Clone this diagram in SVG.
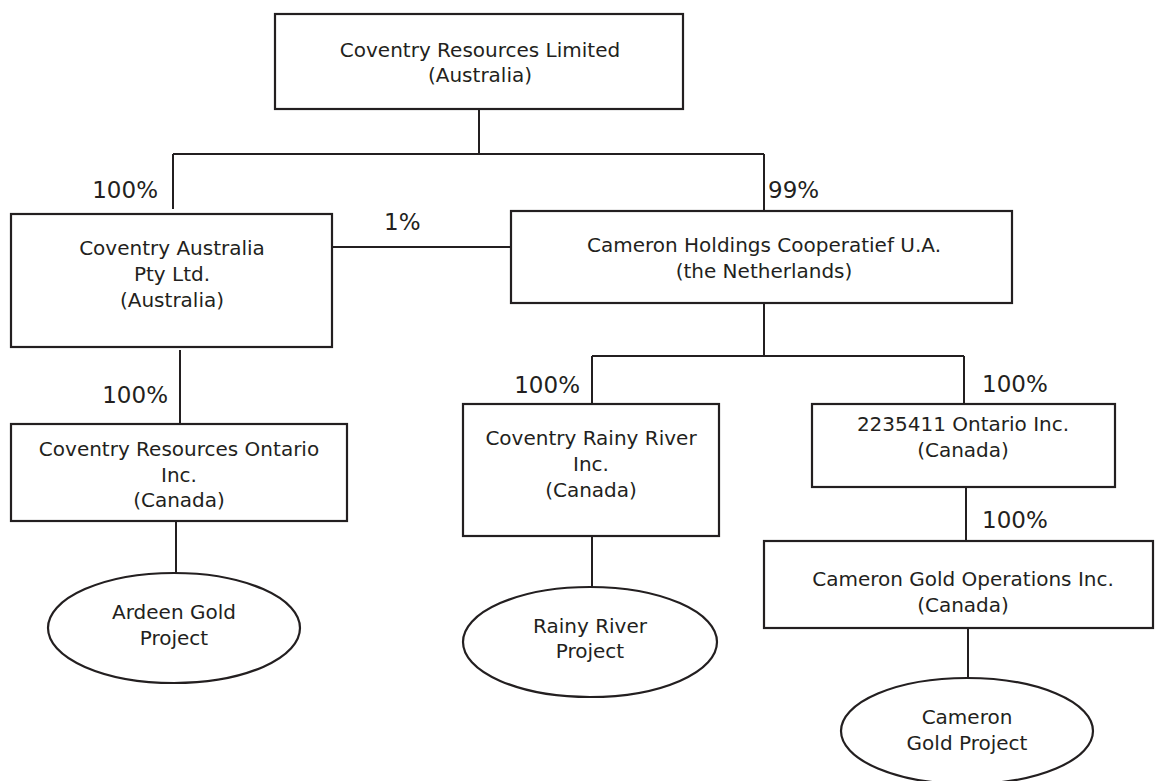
<svg xmlns="http://www.w3.org/2000/svg" width="1156" height="781" viewBox="0 0 1156 781">
<style>
.box{fill:#fff;stroke:#231f20;stroke-width:2.2}
.ln{fill:none;stroke:#231f20;stroke-width:2}
text{font-family:"DejaVu Sans","Liberation Sans",sans-serif;font-size:20px;fill:#231f20}
text.pct{font-size:23px}
.c{text-anchor:middle}
.e{text-anchor:end}
</style>
<rect width="1156" height="781" fill="#fff"/>
<g id="connectors">
<path class="ln" d="M479,109 V154 M173,154 H764 M173,154 V209 M764,154 V211"/>
<path class="ln" d="M332,247 H511"/>
<path class="ln" d="M180,350 V424"/>
<path class="ln" d="M176,521 V574"/>
<path class="ln" d="M764,303 V356 M592,356 H964 M592,356 V404 M964,356 V404"/>
<path class="ln" d="M592,536 V587"/>
<path class="ln" d="M966,487 V541"/>
<path class="ln" d="M968,628 V678"/>
<text class="pct e" x="158" y="198">100%</text>
<text class="pct" x="768" y="198">99%</text>
<text class="pct" x="384" y="230">1%</text>
<text class="pct e" x="168" y="403">100%</text>
<text class="pct e" x="580" y="393">100%</text>
<text class="pct" x="982" y="392">100%</text>
<text class="pct" x="982" y="528">100%</text>
</g>
<g id="n-crl">
<rect class="box" x="275" y="14" width="408" height="95"/>
<text class="c" x="480" y="57">Coventry Resources Limited</text>
<text class="c" x="480" y="82">(Australia)</text>
</g>
<g id="n-cap">
<rect class="box" x="11" y="214" width="321" height="133"/>
<text class="c" x="172" y="255">Coventry Australia</text>
<text class="c" x="172" y="281">Pty Ltd.</text>
<text class="c" x="172" y="307">(Australia)</text>
</g>
<g id="n-chc">
<rect class="box" x="511" y="211" width="501" height="92"/>
<text class="c" x="764" y="252">Cameron Holdings Cooperatief U.A.</text>
<text class="c" x="764" y="278">(the Netherlands)</text>
</g>
<g id="n-cro">
<rect class="box" x="11" y="424" width="336" height="97"/>
<text class="c" x="179" y="456">Coventry Resources Ontario</text>
<text class="c" x="179" y="482">Inc.</text>
<text class="c" x="179" y="507">(Canada)</text>
</g>
<g id="n-crr">
<rect class="box" x="463" y="404" width="256" height="132"/>
<text class="c" x="591" y="445">Coventry Rainy River</text>
<text class="c" x="591" y="471">Inc.</text>
<text class="c" x="591" y="497">(Canada)</text>
</g>
<g id="n-oi">
<rect class="box" x="812" y="404" width="303" height="83"/>
<text class="c" x="963" y="431">2235411 Ontario Inc.</text>
<text class="c" x="963" y="457">(Canada)</text>
</g>
<g id="n-cgo">
<rect class="box" x="764" y="541" width="389" height="87"/>
<text class="c" x="963" y="586">Cameron Gold Operations Inc.</text>
<text class="c" x="963" y="612">(Canada)</text>
</g>
<g id="p-ardeen">
<ellipse class="box" cx="174" cy="628" rx="126" ry="55"/>
<text class="c" x="174" y="619">Ardeen Gold</text>
<text class="c" x="174" y="645">Project</text>
</g>
<g id="p-rainy">
<ellipse class="box" cx="590" cy="642" rx="127" ry="55"/>
<text class="c" x="590" y="633">Rainy River</text>
<text class="c" x="590" y="658">Project</text>
</g>
<g id="p-cameron">
<ellipse class="box" cx="967" cy="731" rx="126" ry="53"/>
<text class="c" x="967" y="724">Cameron</text>
<text class="c" x="967" y="750">Gold Project</text>
</g>
</svg>
